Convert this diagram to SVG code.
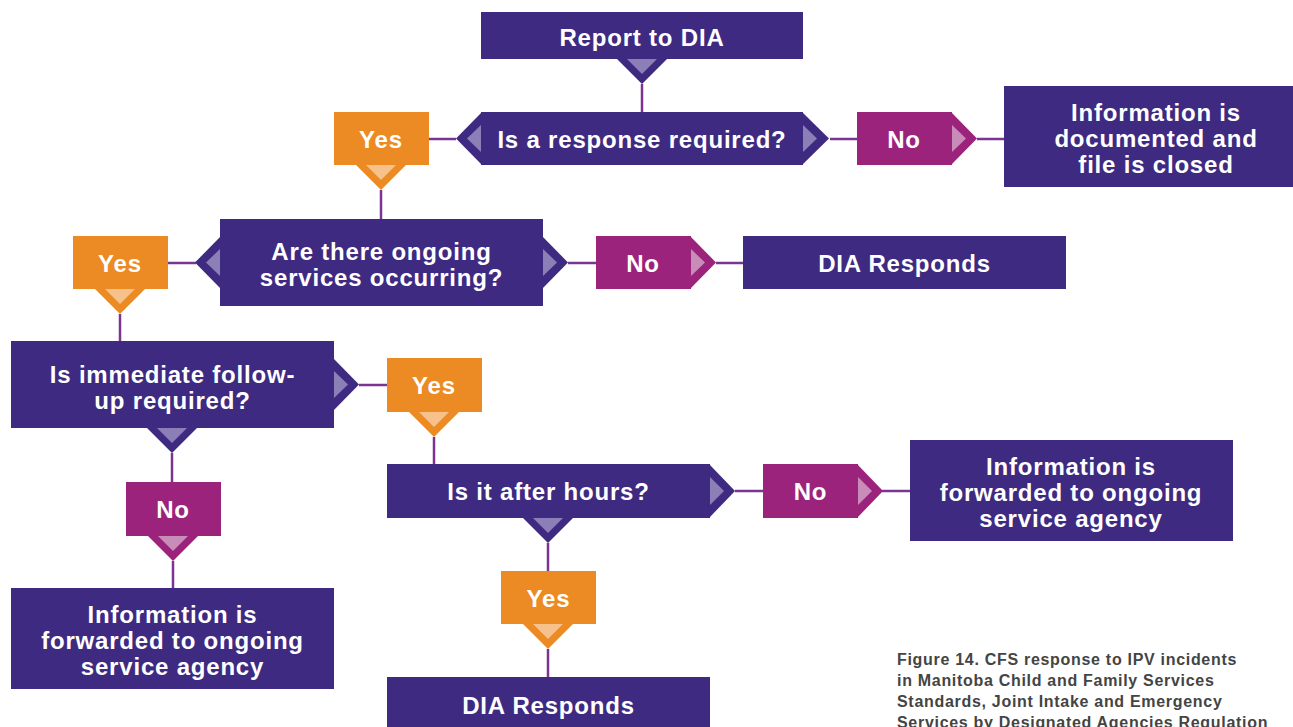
<svg xmlns="http://www.w3.org/2000/svg" width="1293" height="727" viewBox="0 0 1293 727">
<style>
.box{fill:#3E2A81}
.yes{fill:#EC8B23}
.no{fill:#9C237C}
.lbox{fill:#8C7EB6}
.lyes{fill:#F6C18A}
.lno{fill:#C88CB9}
.t{font-family:"Liberation Sans",Arial,sans-serif;font-weight:bold;font-size:24px;letter-spacing:0.8px;fill:#fff;text-anchor:middle}
.cap{font-family:"Liberation Sans",Arial,sans-serif;font-weight:bold;font-size:16px;letter-spacing:0.7px;fill:#444}
.ln{stroke:#7A3592;stroke-width:2.5;fill:none}
</style>
<rect width="1293" height="727" fill="#fff"/>
<g id="connectors">
<path class="ln" d="M642 84V112"/>
<path class="ln" d="M429 139H456"/>
<path class="ln" d="M830 139H857M977 139H1004"/>
<path class="ln" d="M381 190V219"/>
<path class="ln" d="M168 263H196"/>
<path class="ln" d="M568 263H596M716 263H743"/>
<path class="ln" d="M120 314V341"/>
<path class="ln" d="M359 385H387"/>
<path class="ln" d="M434 437V464"/>
<path class="ln" d="M172 453V482"/>
<path class="ln" d="M173 561V588"/>
<path class="ln" d="M735 491H763M882 491H910"/>
<path class="ln" d="M548 543V571"/>
<path class="ln" d="M548 649V677"/>
</g>
<g id="report">
<rect class="box" x="481" y="12" width="322" height="47"/>
<path class="box" d="M616 58L642 84L668 58Z"/>
<path class="lbox" d="M627 59L642 74L657 59Z"/>
<text class="t" x="642" y="46">Report to DIA</text>
</g>
<g id="q1">
<rect class="box" x="481" y="112" width="322" height="53"/>
<path class="box" d="M482 112L456 138.5L482 165Z"/>
<path class="lbox" d="M481 125L467 138.5L481 152Z"/>
<path class="box" d="M802 112L829 138.5L802 165Z"/>
<path class="lbox" d="M803 125L817 138.5L803 152Z"/>
<text class="t" x="642" y="148">Is a response required?</text>
</g>
<g id="yes1">
<rect class="yes" x="334" y="112" width="95" height="53"/>
<path class="yes" d="M355 164L381 190L407 164Z"/>
<path class="lyes" d="M366 165L381 180L396 165Z"/>
<text class="t" x="381" y="148">Yes</text>
</g>
<g id="no1">
<rect class="no" x="857" y="112" width="95" height="53"/>
<path class="no" d="M951 112L977 138.5L951 165Z"/>
<path class="lno" d="M952 125L966 138.5L952 152Z"/>
<text class="t" x="904" y="148">No</text>
</g>
<g id="info1">
<rect class="box" x="1004" y="86" width="289" height="101"/>
<text class="t" x="1156" y="121">Information is</text>
<text class="t" x="1156" y="147">documented and</text>
<text class="t" x="1156" y="173">file is closed</text>
</g>
<g id="q2">
<rect class="box" x="220" y="219" width="323" height="87"/>
<path class="box" d="M221 236L195 262.5L221 289Z"/>
<path class="lbox" d="M220 249L206 262.5L220 276Z"/>
<path class="box" d="M542 236L568 262.5L542 289Z"/>
<path class="lbox" d="M543 249L557 262.5L543 276Z"/>
<text class="t" x="381.5" y="260">Are there ongoing</text>
<text class="t" x="381.5" y="286">services occurring?</text>
</g>
<g id="yes2">
<rect class="yes" x="73" y="236" width="95" height="53"/>
<path class="yes" d="M94 288L120 314L146 288Z"/>
<path class="lyes" d="M105 289L120 304L135 289Z"/>
<text class="t" x="120" y="272">Yes</text>
</g>
<g id="no2">
<rect class="no" x="596" y="236" width="95" height="53"/>
<path class="no" d="M690 236L716 262.5L690 289Z"/>
<path class="lno" d="M691 249L705 262.5L691 276Z"/>
<text class="t" x="643" y="272">No</text>
</g>
<g id="dia1">
<rect class="box" x="743" y="236" width="323" height="53"/>
<text class="t" x="904.5" y="272">DIA Responds</text>
</g>
<g id="q3">
<rect class="box" x="11" y="341" width="323" height="87"/>
<path class="box" d="M333 358L359 384.5L333 411Z"/>
<path class="lbox" d="M334 371L348 384.5L334 398Z"/>
<path class="box" d="M146 427L172 453L198 427Z"/>
<path class="lbox" d="M157 428L172 443L187 428Z"/>
<text class="t" x="172.5" y="383">Is immediate follow-</text>
<text class="t" x="172.5" y="409">up required?</text>
</g>
<g id="yes3">
<rect class="yes" x="387" y="358" width="95" height="54"/>
<path class="yes" d="M408 411L434 437L460 411Z"/>
<path class="lyes" d="M419 412L434 427L449 412Z"/>
<text class="t" x="434" y="394">Yes</text>
</g>
<g id="no3">
<rect class="no" x="126" y="482" width="95" height="54"/>
<path class="no" d="M147 535L173 561L199 535Z"/>
<path class="lno" d="M158 536L173 551L188 536Z"/>
<text class="t" x="173" y="518">No</text>
</g>
<g id="info3">
<rect class="box" x="11" y="588" width="323" height="101"/>
<text class="t" x="172.5" y="623">Information is</text>
<text class="t" x="172.5" y="649">forwarded to ongoing</text>
<text class="t" x="172.5" y="675">service agency</text>
</g>
<g id="q4">
<rect class="box" x="387" y="464" width="323" height="54"/>
<path class="box" d="M709 464L735 491L709 518Z"/>
<path class="lbox" d="M710 477L724 491L710 505Z"/>
<path class="box" d="M522 517L548 543L574 517Z"/>
<path class="lbox" d="M533 518L548 533L563 518Z"/>
<text class="t" x="548.5" y="500">Is it after hours?</text>
</g>
<g id="no4">
<rect class="no" x="763" y="464" width="95" height="54"/>
<path class="no" d="M857 464L883 491L857 518Z"/>
<path class="lno" d="M858 477L872 491L858 505Z"/>
<text class="t" x="810.5" y="500">No</text>
</g>
<g id="info4">
<rect class="box" x="910" y="440" width="323" height="101"/>
<text class="t" x="1071" y="475">Information is</text>
<text class="t" x="1071" y="501">forwarded to ongoing</text>
<text class="t" x="1071" y="527">service agency</text>
</g>
<g id="yes4">
<rect class="yes" x="501" y="571" width="95" height="53"/>
<path class="yes" d="M522 623L548 649L574 623Z"/>
<path class="lyes" d="M533 624L548 639L563 624Z"/>
<text class="t" x="548.5" y="607">Yes</text>
</g>
<g id="dia2">
<rect class="box" x="387" y="677" width="323" height="60"/>
<text class="t" x="548.5" y="714">DIA Responds</text>
</g>
<g id="caption">
<text class="cap" x="897" y="665">Figure 14. CFS response to IPV incidents</text>
<text class="cap" x="897" y="686">in Manitoba Child and Family Services</text>
<text class="cap" x="897" y="707">Standards, Joint Intake and Emergency</text>
<text class="cap" x="897" y="728">Services by Designated Agencies Regulation</text>
</g>
</svg>
